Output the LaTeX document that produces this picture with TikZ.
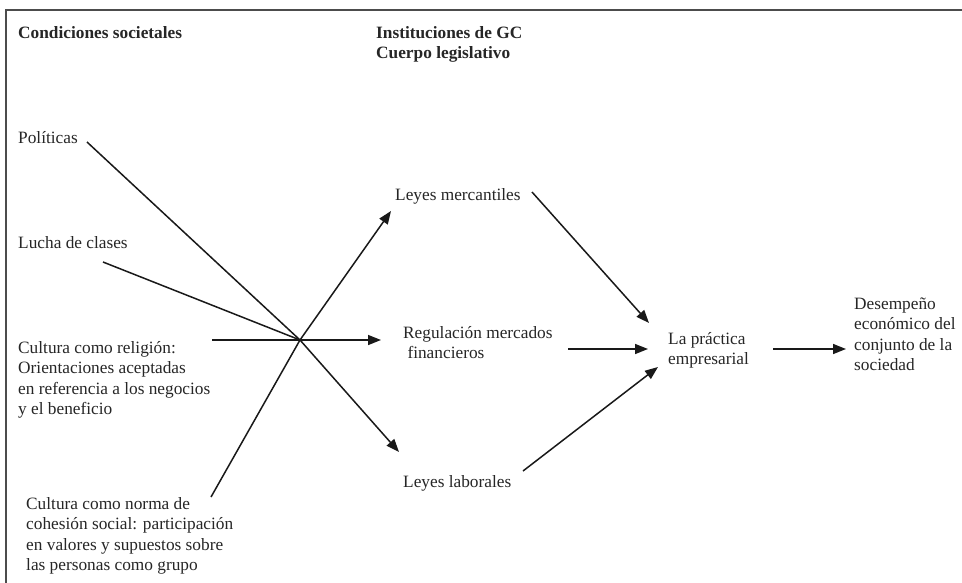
\documentclass[tikz,border=0pt]{standalone}
\usepackage{fontspec}
\setmainfont{Liberation Serif}
\usetikzlibrary{arrows.meta}
\newcommand{\mylines}[1]{\begin{tabular}[t]{@{}l@{}}#1\end{tabular}}
\tikzset{
  lbl/.style={anchor=base west, inner sep=0pt, text=black!85,
    font=\fontsize{17.3}{20.6}\selectfont},
  hdr/.style={lbl, font=\fontsize{17.3}{20.6}\selectfont\bfseries},
  conn/.style={line width=1.5pt, black!90},
  arr/.style={conn, -{Triangle[length=13pt,width=10pt]}},
  frame/.style={line width=2pt, black!70}
}
\begin{document}
\begin{tikzpicture}[x=1pt,y=-1pt]
\useasboundingbox (0,0) rectangle (962,582);
\fill[white] (0,0) rectangle (962,582);
\draw[frame] (6,600) -- (6,9.5) -- (980,9.5);

% headings
\node[hdr] (cond) at (18,38) {Condiciones societales};
\node[hdr] (inst) at (376,38) {\mylines{Instituciones de GC\\Cuerpo legislativo}};

% left column
\node[lbl] (pol) at (18,143) {Políticas};
\node[lbl] (lucha) at (18,248) {Lucha de clases};
\node[lbl] (relig) at (18,353) {\mylines{Cultura como religión:\\Orientaciones aceptadas\\en referencia a los negocios\\y el beneficio}};
\node[lbl] (norma) at (26,509) {\mylines{Cultura como norma de\\cohesión social: participación\\en valores y supuestos sobre\\las personas como grupo}};

% middle column
\node[lbl] (merc) at (395,200) {Leyes mercantiles};
\node[lbl] (reg) at (403,338) {\mylines{Regulación mercados\\\ financieros}};
\node[lbl] (lab) at (403,487) {Leyes laborales};

% right
\node[lbl] (prac) at (668,344) {\mylines{La práctica\\empresarial}};
\node[lbl] (des) at (854,309) {\mylines{Desempeño\\económico del\\conjunto de la\\sociedad}};

% connector points
\coordinate (hub) at (300,340);
\coordinate (polE) at (87,142);
\coordinate (luchaE) at (103,262);
\coordinate (religE) at (212,340);
\coordinate (normaE) at (211,497);
\coordinate (mercT) at (391,211);
\coordinate (regT) at (381,340);
\coordinate (labT) at (399,452);
\coordinate (mercE) at (532,192);
\coordinate (pracA) at (649,323);
\coordinate (regE) at (568,349);
\coordinate (pracB) at (648,349);
\coordinate (labE) at (523,471);
\coordinate (pracC) at (658,367);
\coordinate (pracE) at (773,349);
\coordinate (desT) at (846,349);

\draw[conn] (polE) -- (hub);
\draw[conn] (luchaE) -- (hub);
\draw[arr] (religE) -- (regT);
\draw[arr] (normaE) -- (hub) -- (mercT);
\draw[arr] (hub) -- (labT);

\draw[arr] (mercE) -- (pracA);
\draw[arr] (regE) -- (pracB);
\draw[arr] (labE) -- (pracC);
\draw[arr] (pracE) -- (desT);
\end{tikzpicture}
\end{document}
